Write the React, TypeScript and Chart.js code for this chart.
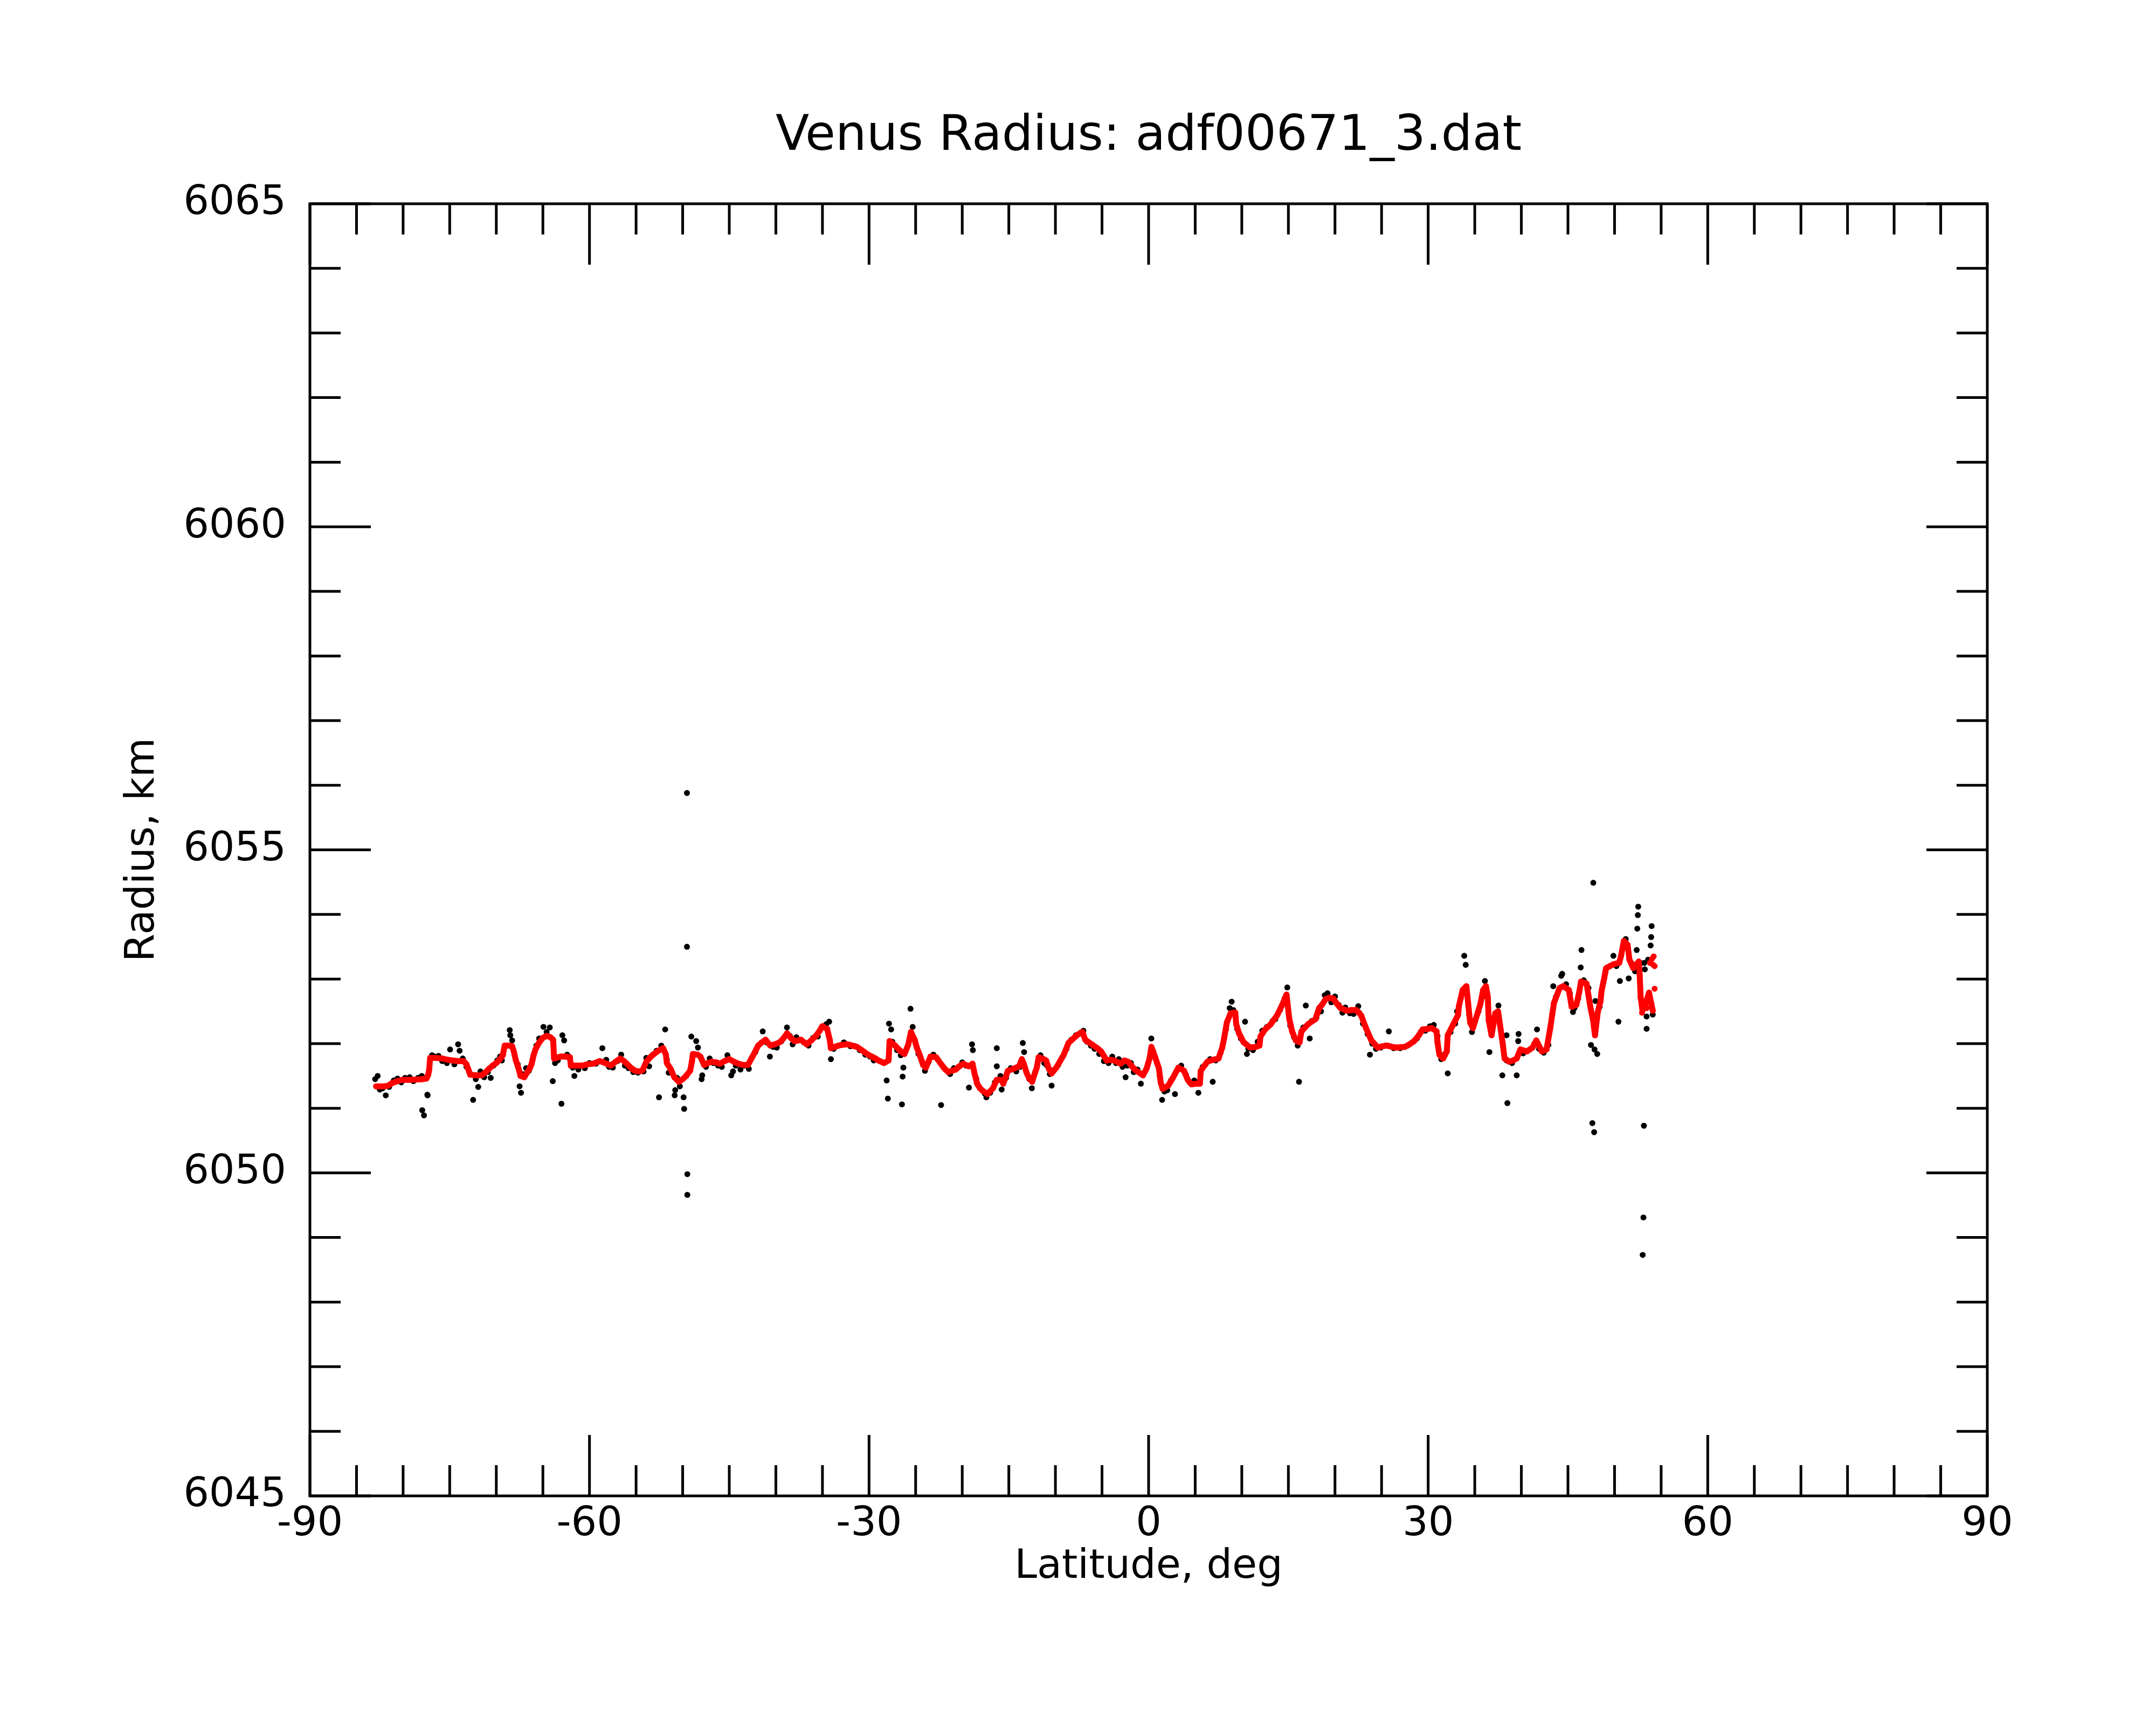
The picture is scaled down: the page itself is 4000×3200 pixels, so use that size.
import React, { FC, useEffect, useRef } from 'react'
import Chart from 'chart.js/auto'

// smoothed radius (red), latitude in deg, radius in km
const redLat = [
  -82.9, -82.0, -81.6, -81.2, -80.8, -80.1, -79.1, -78.0, -77.5, -77.3, -77.2, -77.1, -76.5, -75.8, -75.2, -74.7,
  -74.0, -73.5, -73.2, -73.0, -72.8, -72.2, -71.6, -71.2, -70.8, -70.4, -70.0, -69.6, -69.3, -69.1, -68.7, -68.3,
  -68.1, -67.9, -67.6, -67.4, -67.0, -66.7, -66.4, -66.2, -66.0, -65.8, -65.4, -65.0, -64.6, -64.2, -63.9, -63.8,
  -63.1, -62.6, -62.1, -62.0, -61.4, -60.8, -60.2, -59.6, -58.9, -58.5, -57.7, -57.2, -56.7, -56.3, -56.0, -55.5,
  -55.1, -54.6, -54.3, -53.9, -53.4, -52.9, -52.5, -52.1, -51.8, -51.7, -51.3, -50.9, -50.4, -50.0, -49.7, -49.2,
  -49.0, -48.9, -48.4, -48.1, -47.7, -47.3, -46.9, -46.4, -46.0, -45.5, -45.0, -44.5, -44.0, -43.5, -43.0, -42.5,
  -41.9, -41.5, -41.1, -40.6, -40.1, -39.6, -39.2, -38.8, -38.4, -38.0, -37.6, -37.3, -36.7, -36.2, -35.7, -35.3,
  -35.0, -34.5, -34.2, -34.1, -33.5, -33.0, -32.3, -31.8, -31.3, -30.9, -30.5, -30.1, -29.7, -29.3, -29.0, -28.4,
  -27.9, -27.8, -27.2, -26.8, -26.5, -26.2, -25.8, -25.5, -25.1, -24.9, -24.5, -24.2, -23.9, -23.4, -22.8, -22.2,
  -21.8, -21.5, -21.1, -20.7, -20.3, -19.9, -19.3, -18.9, -18.7, -18.4, -18.1, -17.8, -17.3, -16.7, -16.3, -15.8,
  -15.6, -15.1, -14.5, -13.9, -13.6, -13.4, -13.1, -12.8, -12.5, -12.0, -11.8, -11.4, -11.0, -10.7, -10.4, -9.9,
  -9.5, -9.1, -8.6, -8.0, -7.6, -7.1, -6.8, -6.4, -6.0, -5.5, -5.1, -4.5, -4.1, -3.7, -3.0, -2.6,
  -2.2, -1.8, -1.4, -1.0, -0.6, -0.2, 0.1, 0.3, 0.7, 1.1, 1.3, 1.5, 2.1, 2.6, 3.2, 3.8,
  4.2, 4.6, 5.1, 5.5, 5.6, 6.3, 6.9, 7.5, 7.9, 8.1, 8.4, 8.8, 9.3, 9.4, 9.7, 10.2,
  10.9, 11.5, 11.9, 12.0, 12.5, 13.1, 13.8, 14.4, 14.8, 15.1, 15.4, 15.8, 16.2, 16.4, 17.1, 17.9,
  18.3, 18.6, 19.0, 19.4, 19.8, 20.2, 20.6, 21.3, 21.8, 22.3, 22.8, 23.3, 23.9, 24.6, 25.1, 25.6,
  26.1, 26.6, 27.5, 28.0, 28.5, 29.0, 29.4, 30.0, 30.4, 30.9, 31.0, 31.2, 31.6, 32.0, 32.1, 32.7,
  33.2, 33.3, 33.7, 34.1, 34.3, 34.5, 34.8, 35.3, 35.6, 35.9, 36.2, 36.4, 36.5, 36.8, 37.2, 37.5,
  37.7, 38.0, 38.2, 38.7, 39.1, 39.5, 39.9, 40.6, 41.2, 41.6, 42.2, 42.7, 43.1, 43.5, 44.1, 44.5,
  45.1, 45.4, 45.9, 46.2, 46.4, 47.0, 47.4, 47.7, 47.9, 48.2, 48.5, 48.6, 48.9, 49.1, 49.9, 50.5,
  50.7, 51.0, 51.4, 51.6, 52.0, 52.6, 52.7, 52.8, 53.0, 53.3, 53.7, 54.1,
]
const redRadius = [
  6051.34, 6051.34, 6051.35, 6051.39, 6051.41, 6051.44, 6051.44, 6051.45, 6051.46, 6051.52, 6051.6, 6051.78, 6051.78, 6051.77, 6051.75, 6051.74,
  6051.73, 6051.73, 6051.68, 6051.6, 6051.52, 6051.51, 6051.51, 6051.55, 6051.61, 6051.66, 6051.7, 6051.76, 6051.82, 6051.97, 6051.97, 6051.96,
  6051.87, 6051.74, 6051.61, 6051.5, 6051.48, 6051.55, 6051.62, 6051.69, 6051.82, 6051.91, 6052.02, 6052.09, 6052.12, 6052.1, 6052.06, 6051.77,
  6051.8, 6051.8, 6051.79, 6051.66, 6051.66, 6051.66, 6051.68, 6051.69, 6051.73, 6051.71, 6051.66, 6051.72, 6051.77, 6051.73, 6051.69, 6051.62,
  6051.58, 6051.57, 6051.59, 6051.72, 6051.8, 6051.86, 6051.9, 6051.93, 6051.83, 6051.7, 6051.61, 6051.48, 6051.41, 6051.45, 6051.49, 6051.58,
  6051.73, 6051.84, 6051.83, 6051.8, 6051.67, 6051.7, 6051.72, 6051.71, 6051.69, 6051.73, 6051.76, 6051.72, 6051.69, 6051.67, 6051.67, 6051.8,
  6051.97, 6052.02, 6052.06, 6051.97, 6051.99, 6052.02, 6052.08, 6052.16, 6052.09, 6052.04, 6052.05, 6052.06, 6051.99, 6052.05, 6052.12, 6052.2,
  6052.27, 6052.23, 6052.05, 6051.93, 6051.96, 6051.98, 6051.99, 6051.97, 6051.95, 6051.91, 6051.87, 6051.83, 6051.8, 6051.77, 6051.74, 6051.7,
  6051.74, 6052.04, 6051.97, 6051.91, 6051.87, 6051.84, 6051.98, 6052.18, 6052.06, 6051.95, 6051.8, 6051.67, 6051.63, 6051.8, 6051.79, 6051.67,
  6051.6, 6051.56, 6051.58, 6051.6, 6051.65, 6051.69, 6051.65, 6051.69, 6051.55, 6051.38, 6051.31, 6051.27, 6051.22, 6051.31, 6051.44, 6051.44,
  6051.38, 6051.58, 6051.61, 6051.65, 6051.76, 6051.69, 6051.55, 6051.46, 6051.41, 6051.63, 6051.79, 6051.77, 6051.74, 6051.61, 6051.54, 6051.63,
  6051.73, 6051.83, 6052.01, 6052.09, 6052.14, 6052.18, 6052.06, 6052.02, 6051.98, 6051.93, 6051.88, 6051.74, 6051.75, 6051.74, 6051.69, 6051.74,
  6051.72, 6051.65, 6051.59, 6051.55, 6051.51, 6051.62, 6051.77, 6051.95, 6051.79, 6051.62, 6051.4, 6051.3, 6051.35, 6051.47, 6051.63, 6051.58,
  6051.44, 6051.37, 6051.38, 6051.38, 6051.58, 6051.72, 6051.75, 6051.77, 6051.94, 6052.08, 6052.33, 6052.47, 6052.48, 6052.3, 6052.16, 6052.02,
  6051.94, 6051.95, 6051.97, 6052.11, 6052.22, 6052.3, 6052.44, 6052.62, 6052.76, 6052.38, 6052.19, 6052.05, 6052.02, 6052.19, 6052.3, 6052.38,
  6052.55, 6052.6, 6052.69, 6052.71, 6052.7, 6052.62, 6052.55, 6052.51, 6052.52, 6052.52, 6052.44, 6052.25, 6052.05, 6051.94, 6051.96, 6051.97,
  6051.95, 6051.94, 6051.95, 6051.99, 6052.04, 6052.13, 6052.22, 6052.23, 6052.24, 6052.19, 6052.02, 6051.83, 6051.77, 6051.88, 6052.13, 6052.3,
  6052.44, 6052.58, 6052.83, 6052.89, 6052.61, 6052.33, 6052.24, 6052.47, 6052.61, 6052.83, 6052.89, 6052.72, 6052.36, 6052.13, 6052.47, 6052.5,
  6052.3, 6052.0, 6051.77, 6051.72, 6051.74, 6051.77, 6051.91, 6051.88, 6051.94, 6052.05, 6051.88, 6051.91, 6052.24, 6052.63, 6052.86, 6052.89,
  6052.83, 6052.57, 6052.6, 6052.79, 6052.96, 6052.93, 6052.57, 6052.36, 6052.13, 6052.49, 6052.66, 6052.81, 6053.02, 6053.17, 6053.23, 6053.25,
  6053.36, 6053.59, 6053.53, 6053.3, 6053.17, 6053.27, 6053.06, 6052.72, 6052.51, 6052.6, 6052.79, 6052.51,
]

// loose smoothed points at the northern end
const redEndLat = [52.95, 53.45, 53.8, 54.0, 54.15, 54.2, 54.3, 54.3]
const redEndRadius = [6052.48, 6052.55, 6053.25, 6053.31, 6053.22, 6053.35, 6053.2, 6052.85]

// raw radius samples (black)
const rawLat = [
  -83.0, -82.73, -82.5, -82.2, -81.86, -81.5, -81.0, -80.6, -80.2, -79.8, -79.3, -78.9, -78.4, -78.0, -77.95, -77.76,
  -77.37, -77.4, -76.9, -76.6, -76.2, -75.8, -75.3, -74.96, -74.5, -74.1, -73.94, -73.6, -73.2, -72.9, -72.49, -72.2,
  -71.94, -71.7, -71.3, -70.9, -70.6, -70.3, -69.9, -69.6, -69.4, -68.56, -68.5, -68.3, -67.7, -67.35, -67.5, -67.2,
  -66.8, -66.5, -66.1, -65.7, -65.4, -64.94, -64.26, -64.6, -63.94, -63.7, -63.4, -63.01, -62.91, -62.72, -62.4, -61.62,
  -61.8, -61.2, -60.5, -60.0, -59.3, -58.62, -58.2, -57.9, -57.5, -57.0, -56.6, -56.2, -55.8, -55.3, -54.8, -54.2,
  -53.9, -53.6, -53.2, -52.8, -52.54, -52.3, -51.88, -51.7, -51.5, -51.2, -50.86, -50.8, -50.6, -50.3, -49.9, -49.84,
  -49.54, -49.54, -49.5, -49.5, -49.6, -49.07, -48.55, -48.36, -47.97, -47.9, -47.5, -47.1, -46.7, -46.2, -45.8, -45.2,
  -44.79, -44.6, -44.3, -43.8, -43.4, -42.9, -42.6, -42.2, -41.41, -41.0, -40.64, -40.3, -39.9, -39.4, -38.81, -38.5,
  -38.2, -37.8, -37.0, -36.5, -36.0, -35.5, -35.1, -34.28, -34.6, -34.09, -33.8, -33.3, -32.7, -32.0, -31.5, -31.0,
  -30.4, -29.9, -29.5, -28.8, -28.11, -27.98, -27.86, -27.63, -27.5, -27.0, -26.6, -26.47, -26.4, -26.32, -25.55, -25.32,
  -25.0, -24.7, -24.3, -24.0, -23.6, -23.1, -22.6, -22.27, -22.0, -21.3, -20.9, -20.4, -20.0, -19.6, -19.28, -18.95,
  -18.86, -18.5, -17.41, -17.6, -17.0, -16.5, -16.29, -16.29, -15.77, -15.9, -15.3, -14.8, -14.2, -13.8, -13.5, -13.36,
  -12.8, -12.53, -12.2, -11.6, -11.2, -10.9, -10.41, -10.6, -10.1, -9.7, -9.3, -8.8, -8.3, -7.8, -7.3, -7.0,
  -6.6, -6.2, -5.8, -5.3, -4.8, -4.3, -3.9, -3.5, -3.2, -2.47, -2.8, -2.3, -1.9, -1.6, -1.2, -0.83,
  -0.5, 0.29, 0.5, 0.9, 1.45, 1.2, 1.7, 2.0, 2.4, 2.83, 2.9, 3.5, 4.0, 4.4, 4.9, 5.34,
  5.8, 6.1, 6.6, 6.88, 7.2, 7.7, 8.3, 8.7, 8.91, 9.1, 9.5, 9.9, 10.35, 10.55, 10.7, 11.2,
  11.7, 12.2, 12.7, 13.3, 13.6, 14.1, 14.6, 14.88, 15.2, 15.6, 16.14, 16.0, 16.6, 16.87, 17.29, 17.5,
  18.0, 18.5, 18.9, 19.2, 19.6, 20.0, 20.4, 20.8, 21.1, 21.6, 22.0, 22.5, 22.6, 23.0, 23.5, 23.75,
  24.0, 24.4, 24.9, 25.4, 25.78, 25.9, 26.3, 27.0, 27.8, 28.3, 28.8, 29.2, 29.7, 30.2, 30.6, 31.0,
  31.4, 32.1, 31.8, 32.4, 32.9, 33.1, 33.87, 34.03, 33.5, 33.9, 34.4, 34.7, 35.0, 35.4, 35.8, 36.09,
  36.3, 36.57, 36.7, 37.0, 37.54, 37.9, 37.96, 38.41, 38.5, 38.4, 39.0, 39.5, 39.66, 39.7, 40.2, 40.9,
  41.4, 41.68, 41.9, 42.4, 42.9, 43.3, 43.42, 43.7, 44.28, 44.38, 44.8, 45.2, 45.54, 45.7, 46.1, 46.37,
  46.45, 46.7, 47.2, 47.47, 47.72, 47.62, 47.81, 47.85, 47.95, 48.14, 48.4, 48.8, 49.0, 49.5, 49.88, 50.2,
  50.42, 50.57, 50.9, 51.2, 51.52, 51.8, 52.2, 52.38, 52.44, 52.5, 52.54, 52.8, 53.02, 53.1, 53.15, 53.19,
  53.25, 53.44, 53.44, 53.6, 53.87, 53.93, 53.98, 54.1,
]
const rawRadius = [
  6051.45, 6051.5, 6051.29, 6051.31, 6051.2, 6051.33, 6051.43, 6051.46, 6051.4, 6051.47, 6051.48, 6051.42, 6051.47, 6051.5, 6050.97, 6050.89,
  6051.2, 6051.21, 6051.82, 6051.8, 6051.81, 6051.73, 6051.7, 6051.91, 6051.68, 6051.99, 6051.89, 6051.77, 6051.64, 6051.56, 6051.13, 6051.45,
  6051.33, 6051.57, 6051.48, 6051.56, 6051.47, 6051.66, 6051.74, 6051.8, 6051.74, 6052.21, 6052.13, 6052.05, 6051.68, 6051.24, 6051.34, 6051.53,
  6051.62, 6051.58, 6051.76, 6051.97, 6052.08, 6052.26, 6052.25, 6052.18, 6051.42, 6051.7, 6051.74, 6051.07, 6052.13, 6052.05, 6051.83, 6051.5,
  6051.63, 6051.6, 6051.62, 6051.7, 6051.69, 6051.93, 6051.75, 6051.64, 6051.63, 6051.73, 6051.83, 6051.66, 6051.62, 6051.56, 6051.55, 6051.57,
  6051.78, 6051.65, 6051.83, 6051.89, 6051.17, 6051.97, 6052.22, 6051.75, 6051.55, 6051.58, 6051.2, 6051.28, 6051.47, 6051.34, 6051.17, 6050.99,
  6055.88, 6053.5, 6049.98, 6049.66, 6051.5, 6052.11, 6052.04, 6051.94, 6051.45, 6051.51, 6051.64, 6051.77, 6051.7, 6051.66, 6051.64, 6051.82,
  6051.51, 6051.57, 6051.66, 6051.6, 6051.66, 6051.61, 6051.78, 6051.87, 6052.19, 6052.02, 6051.8, 6051.95, 6051.94, 6052.04, 6052.25, 6052.12,
  6051.99, 6052.1, 6052.02, 6051.97, 6052.09, 6052.11, 6052.25, 6052.34, 6052.3, 6051.76, 6051.92, 6051.97, 6052.02, 6051.96, 6051.96, 6051.9,
  6051.83, 6051.8, 6051.74, 6051.73, 6051.43, 6051.15, 6052.31, 6052.22, 6052.03, 6051.9, 6051.82, 6051.06, 6051.49, 6051.63, 6052.54, 6052.26,
  6052.0, 6051.84, 6051.72, 6051.58, 6051.72, 6051.83, 6051.75, 6051.05, 6051.63, 6051.53, 6051.62, 6051.64, 6051.71, 6051.66, 6051.32, 6051.99,
  6051.9, 6051.46, 6051.17, 6051.23, 6051.24, 6051.4, 6051.93, 6051.65, 6051.29, 6051.5, 6051.47, 6051.62, 6051.57, 6051.64, 6052.01, 6051.87,
  6051.45, 6051.31, 6051.55, 6051.82, 6051.7, 6051.66, 6051.35, 6051.53, 6051.6, 6051.67, 6051.78, 6051.92, 6052.06, 6052.13, 6052.17, 6052.2,
  6052.03, 6051.97, 6051.92, 6051.84, 6051.73, 6051.7, 6051.8, 6051.7, 6051.76, 6051.48, 6051.64, 6051.66, 6051.7, 6051.56, 6051.6, 6051.38,
  6051.54, 6052.08, 6051.88, 6051.7, 6051.13, 6051.5, 6051.26, 6051.28, 6051.43, 6051.22, 6051.55, 6051.66, 6051.52, 6051.4, 6051.43, 6051.24,
  6051.64, 6051.68, 6051.76, 6051.41, 6051.74, 6051.85, 6052.22, 6052.55, 6052.65, 6052.52, 6052.23, 6052.08, 6052.34, 6051.84, 6051.92, 6051.9,
  6052.03, 6052.2, 6052.26, 6052.35, 6052.38, 6052.52, 6052.7, 6052.87, 6052.28, 6052.1, 6051.41, 6051.97, 6052.25, 6052.59, 6052.08, 6052.35,
  6052.4, 6052.5, 6052.75, 6052.78, 6052.64, 6052.73, 6052.6, 6052.48, 6052.56, 6052.47, 6052.46, 6052.58, 6052.48, 6052.31, 6052.15, 6051.83,
  6052.0, 6051.92, 6051.94, 6051.97, 6052.19, 6051.96, 6051.93, 6051.93, 6051.97, 6052.02, 6052.08, 6052.18, 6052.2, 6052.27, 6052.29, 6052.12,
  6051.76, 6051.54, 6051.84, 6052.18, 6052.31, 6052.5, 6053.36, 6053.22, 6052.7, 6052.8, 6052.45, 6052.18, 6052.35, 6052.5, 6052.72, 6052.97,
  6052.8, 6051.87, 6052.2, 6052.4, 6052.59, 6052.1, 6051.51, 6052.13, 6051.08, 6051.74, 6051.7, 6051.51, 6052.04, 6052.15, 6051.85, 6051.91,
  6052.0, 6052.22, 6051.92, 6051.86, 6051.98, 6052.45, 6052.89, 6052.72, 6053.05, 6053.08, 6052.92, 6052.78, 6052.49, 6052.55, 6052.7, 6053.18,
  6053.45, 6052.98, 6052.86, 6051.98, 6054.49, 6050.77, 6050.63, 6051.91, 6052.66, 6051.84, 6052.57, 6052.95, 6053.11, 6053.2, 6053.36, 6053.2,
  6052.34, 6052.97, 6053.5, 6053.62, 6053.01, 6053.25, 6053.12, 6053.45, 6053.78, 6053.99, 6054.12, 6053.25, 6048.73, 6049.31, 6050.73, 6053.25,
  6053.15, 6052.42, 6052.23, 6053.3, 6053.52, 6053.65, 6053.82, 6052.45,
]

const TITLE = 'Venus Radius: adf00671_3.dat'
const FONT = '"DejaVu Sans", "Liberation Sans", sans-serif'

const xMinorStep = 5
const xMajorStep = 30
const yMinorStep = 1
const yMajorStep = 5

// frame, inward ticks on all four sides, and the title
const frameTicks = {
  id: 'frameTicks',
  afterDraw(chart: any) {
    const { ctx, chartArea } = chart
    const { left, right, top, bottom } = chartArea
    const xs = chart.scales.x
    const ys = chart.scales.y
    ctx.save()
    ctx.strokeStyle = '#000'
    ctx.lineWidth = 5
    ctx.beginPath()
    for (let v = xs.min; v <= xs.max; v += xMinorStep) {
      const len = v % xMajorStep === 0 ? 113 : 57
      const px = xs.getPixelForValue(v)
      ctx.moveTo(px, bottom)
      ctx.lineTo(px, bottom - len)
      ctx.moveTo(px, top)
      ctx.lineTo(px, top + len)
    }
    for (let v = ys.min; v <= ys.max; v += yMinorStep) {
      const len = v % yMajorStep === 0 ? 113 : 57
      const py = ys.getPixelForValue(v)
      ctx.moveTo(left, py)
      ctx.lineTo(left + len, py)
      ctx.moveTo(right, py)
      ctx.lineTo(right - len, py)
    }
    ctx.stroke()
    ctx.strokeRect(left, top, right - left, bottom - top)

    ctx.fillStyle = '#000'
    ctx.font = `91px ${FONT}`
    ctx.textAlign = 'center'
    ctx.textBaseline = 'middle'
    ctx.fillText(TITLE, (left + right) / 2, 254)
    ctx.restore()
  },
}

const App: FC = () => {
  const canvasRef = useRef<HTMLCanvasElement>(null)
  const chartRef = useRef<Chart | null>(null)

  useEffect(() => {
    document.body.style.margin = '0'
    if (!canvasRef.current) return
    const ctx = canvasRef.current.getContext('2d')
    if (!ctx) return

    if (chartRef.current) chartRef.current.destroy()

    const smooth = redLat.map((x, i) => ({ x, y: redRadius[i] }))
    const smoothEnd = redEndLat.map((x, i) => ({ x, y: redEndRadius[i] }))
    const raw = rawLat.map((x, i) => ({ x, y: rawRadius[i] }))

    chartRef.current = new Chart(ctx, {
      type: 'scatter',
      data: {
        datasets: [
          {
            label: 'smoothed',
            data: smooth,
            showLine: true,
            borderColor: '#ff0000',
            borderWidth: 11,
            borderCapStyle: 'round',
            borderJoinStyle: 'round',
            backgroundColor: '#ff0000',
            pointRadius: 5.5,
            pointBorderWidth: 0,
            order: 0,
          },
          {
            label: 'smoothed end',
            data: smoothEnd,
            backgroundColor: '#ff0000',
            pointRadius: 5.5,
            pointBorderWidth: 0,
            order: 1,
          },
          {
            label: 'raw',
            data: raw,
            backgroundColor: '#000000',
            pointRadius: 5.5,
            pointBorderWidth: 0,
            order: 2,
          },
        ],
      },
      options: {
        responsive: false,
        devicePixelRatio: 1,
        animation: false,
        events: [],
        layout: { padding: { top: 378, right: 313, bottom: 0, left: 0 } },
        plugins: {
          legend: { display: false },
          tooltip: { enabled: false },
          title: { display: false },
        },
        scales: {
          x: {
            type: 'linear',
            min: -90,
            max: 90,
            grid: { display: false, drawTicks: false },
            border: { display: false },
            ticks: {
              stepSize: 30,
              padding: 9,
              color: '#000',
              font: { family: FONT, size: 75 },
              maxRotation: 0,
              callback: (v: any) => String(v),
            },
            title: {
              display: true,
              text: 'Latitude, deg',
              color: '#000',
              font: { family: FONT, size: 75 },
              padding: { top: 0, bottom: 247 },
            },
            afterFit: (scale: any) => {
              scale.height = 425
            },
          },
          y: {
            type: 'linear',
            min: 6045,
            max: 6065,
            grid: { display: false, drawTicks: false },
            border: { display: false },
            ticks: {
              stepSize: 5,
              padding: 44,
              color: '#000',
              font: { family: FONT, size: 75 },
              callback: (v: any) => String(v),
            },
            title: {
              display: true,
              text: 'Radius, km',
              color: '#000',
              font: { family: FONT, size: 75 },
              padding: { top: 221, bottom: 0 },
            },
            afterFit: (scale: any) => {
              scale.width = 575
            },
          },
        },
      },
      plugins: [frameTicks],
    })

    return () => {
      if (chartRef.current) {
        chartRef.current.destroy()
        chartRef.current = null
      }
    }
  }, [])

  return (
    <div style={{ width: 4000, height: 3200, background: '#fff' }}>
      <canvas ref={canvasRef} width={4000} height={3200}></canvas>
    </div>
  )
}

export default App
